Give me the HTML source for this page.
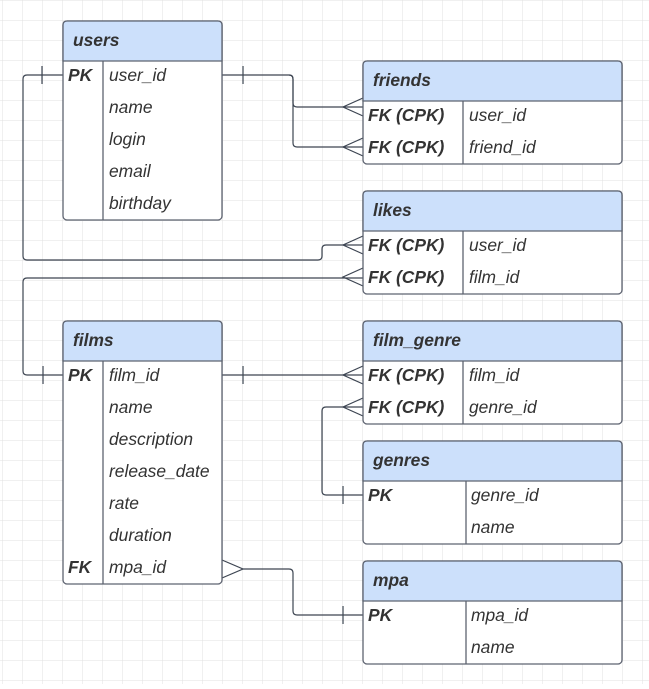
<!DOCTYPE html>
<html><head><style>
body{margin:0;width:649px;height:684px;overflow:hidden;background:#fff;font-family:"Liberation Sans",sans-serif;}
</style></head><body>
<svg width="649" height="684" xmlns="http://www.w3.org/2000/svg" font-family="Liberation Sans, sans-serif" font-style="italic" font-size="17.4" fill="#333">
<defs><pattern id="g" width="20" height="20" patternUnits="userSpaceOnUse" x="3" y="1"><path d="M20 0V20M0 20H20" stroke="#e0e0e0" stroke-width="1" fill="none"/></pattern></defs>
<rect width="649" height="684" fill="url(#g)"/>
<g stroke="#3d4552" stroke-width="1.2" fill="none">
<path d="M63 75H27q-4 0-4 4V256q0 4 4 4H318q4 0 4-4V249q0-4 4-4H363"/>
<path d="M42 66V84"/>
<path d="M363 278H27q-4 0-4 4V371q0 4 4 4H63"/>
<path d="M43 366V384"/>
<path d="M222 75H289q4 0 4 4V103q0 4 4 4H363"/>
<path d="M289 75q4 0 4 4V143q0 4 4 4H363"/>
<path d="M243 66V84"/>
<path d="M222 375H363"/><path d="M243 366V384"/>
<path d="M363 407H326q-4 0-4 4V491q0 4 4 4H363"/><path d="M343 486V504"/>
<path d="M243 569H289q4 0 4 4V611q0 4 4 4H363"/><path d="M343 606V624"/>
<path d="M222 560L243 569L222 578"/>
<path d="M363 98L343 107L363 116M363 138L343 147L363 156M363 236L343 245L363 254M363 268L343 277L363 286M363 366L343 375L363 384M363 398L343 407L363 416"/>
</g>
<g stroke="#5d6370" stroke-width="1.3">
<rect x="63" y="21" width="159" height="199" rx="4" fill="#fff"/>
<path d="M63 61V25q0-4 4-4H218q4 0 4 4V61Z" fill="#cce0fb"/><path d="M103 61V220" fill="none"/>
<rect x="63" y="321" width="159" height="263" rx="4" fill="#fff"/>
<path d="M63 361V325q0-4 4-4H218q4 0 4 4V361Z" fill="#cce0fb"/><path d="M103 361V584" fill="none"/>
<rect x="363" y="61" width="259" height="103" rx="4" fill="#fff"/>
<path d="M363 101V65q0-4 4-4H618q4 0 4 4V101Z" fill="#cce0fb"/><path d="M463 101V164"/>
<rect x="363" y="191" width="259" height="103" rx="4" fill="#fff"/>
<path d="M363 231V195q0-4 4-4H618q4 0 4 4V231Z" fill="#cce0fb"/><path d="M463 231V294"/>
<rect x="363" y="321" width="259" height="103" rx="4" fill="#fff"/>
<path d="M363 361V325q0-4 4-4H618q4 0 4 4V361Z" fill="#cce0fb"/><path d="M463 361V424"/>
<rect x="363" y="441" width="259" height="103" rx="4" fill="#fff"/>
<path d="M363 481V445q0-4 4-4H618q4 0 4 4V481Z" fill="#cce0fb"/><path d="M466 481V544"/>
<rect x="363" y="561" width="259" height="103" rx="4" fill="#fff"/>
<path d="M363 601V565q0-4 4-4H618q4 0 4 4V601Z" fill="#cce0fb"/><path d="M466 601V664"/>
</g>
<g font-weight="bold">
<text x="73" y="46">users</text><text x="73" y="346">films</text>
<text x="373" y="86">friends</text><text x="373" y="216">likes</text>
<text x="373" y="346">film_genre</text><text x="373" y="466">genres</text><text x="373" y="586">mpa</text>
<text x="68" y="81">PK</text><text x="68" y="381">PK</text><text x="68" y="573">FK</text>
<text x="368" y="121">FK (CPK)</text><text x="368" y="153">FK (CPK)</text>
<text x="368" y="251">FK (CPK)</text><text x="368" y="283">FK (CPK)</text>
<text x="368" y="381">FK (CPK)</text><text x="368" y="413">FK (CPK)</text>
<text x="368" y="501">PK</text><text x="368" y="621">PK</text>
</g>
<g>
<text x="109" y="81">user_id</text><text x="109" y="113">name</text><text x="109" y="145">login</text><text x="109" y="177">email</text><text x="109" y="209">birthday</text>
<text x="109" y="381">film_id</text><text x="109" y="413">name</text><text x="109" y="445">description</text><text x="109" y="477">release_date</text><text x="109" y="509">rate</text><text x="109" y="541">duration</text><text x="109" y="573">mpa_id</text>
<text x="469" y="121">user_id</text><text x="469" y="153">friend_id</text>
<text x="469" y="251">user_id</text><text x="469" y="283">film_id</text>
<text x="469" y="381">film_id</text><text x="469" y="413">genre_id</text>
<text x="471" y="501">genre_id</text><text x="471" y="533">name</text>
<text x="471" y="621">mpa_id</text><text x="471" y="653">name</text>
</g>
</svg>
</body></html>
